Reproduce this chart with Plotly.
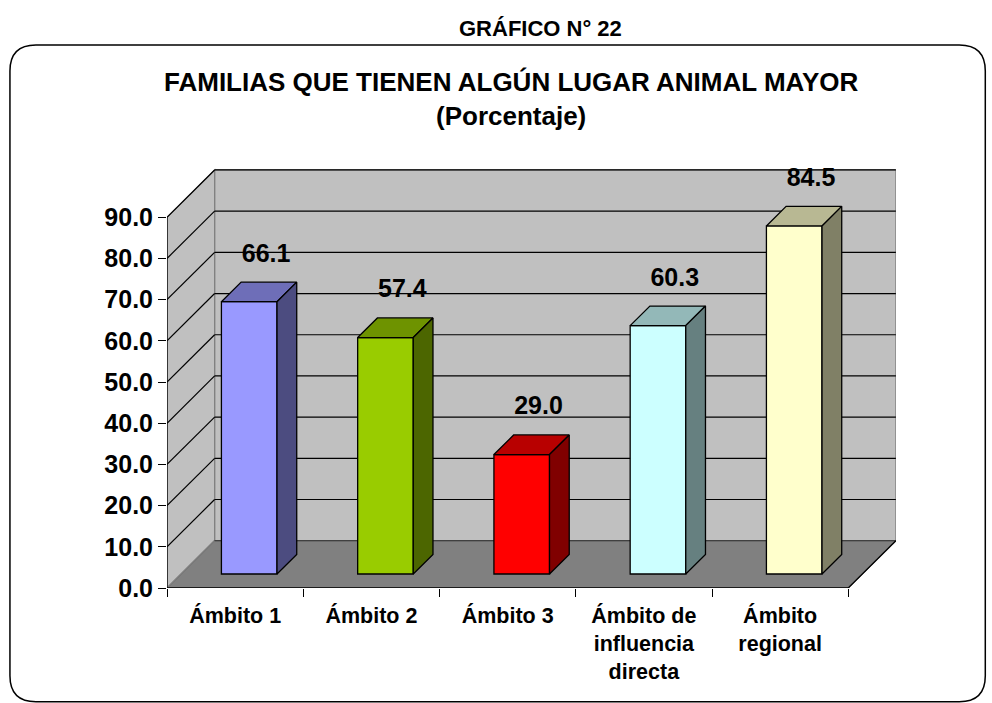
import textwrap
import plotly.graph_objects as go

# ---------------- data ----------------
categories = ["Ámbito 1", "Ámbito 2", "Ámbito 3", "Ámbito de influencia directa", "Ámbito regional"]
values = [66.1, 57.4, 29.0, 60.3, 84.5]
bar_colors = ["#9999FF", "#99CC00", "#FF0000", "#CCFFFF", "#FFFFCC"]
y_ticks = [0, 10, 20, 30, 40, 50, 60, 70, 80, 90]
sup_title = "GRÁFICO N° 22"
title = "FAMILIAS QUE TIENEN ALGÚN LUGAR ANIMAL MAYOR"
subtitle = "(Porcentaje)"

# ---------------- geometry (pseudo 3D) ----------------
W, H = 992, 703
UX = 136.2        # px per category
UY = 4.122        # px per value unit
DX = 0.3495       # depth offset in x units
DY = 11.48        # depth offset in y units
F0, F1 = 0.296, 0.71   # bar depth span (fraction of depth)
BAR_W = 0.408
YMAX = y_ticks[-1]
n = len(categories)
XR = n + DX + 0.001
YR = 103.9
ML, MT = 167, 160
PW, PH = XR * UX, YR * UY
MR, MB = W - ML - PW, H - MT - PH

FONT = "Liberation Sans, Arial, sans-serif"


def shade(hexc, k):
    h = hexc.lstrip("#")
    r, g, b = (int(h[i:i + 2], 16) for i in (0, 2, 4))
    return "rgb(%d,%d,%d)" % (round(r * k), round(g * k), round(b * k))


def pxx(x):
    return (x - ML) / PW


def pxy(y):
    return (MT + PH - y) / PH


fig = go.Figure()
shapes = []

# walls
back = f"M {DX},{DY} L {n + DX},{DY} L {n + DX},{YMAX + DY} L {DX},{YMAX + DY} Z"
left = f"M 0,0 L {DX},{DY} L {DX},{YMAX + DY} L 0,{YMAX} Z"
floor = f"M 0,0 L {n},0 L {n + DX},{DY} L {DX},{DY} Z"
shapes.append(dict(type="path", path=back, xref="x", yref="y", fillcolor="#C0C0C0",
                   line=dict(color="#808080", width=1.2), layer="below"))
shapes.append(dict(type="path", path=left, xref="x", yref="y", fillcolor="#C0C0C0",
                   line=dict(color="#808080", width=1.2), layer="below"))
shapes.append(dict(type="path", path=floor, xref="x", yref="y", fillcolor="#808080",
                   line=dict(color="#606060", width=1.2), layer="below"))
# gridlines
for v in y_ticks:
    col = "#404040" if v == 0 else "#000000"
    shapes.append(dict(type="line", xref="x", yref="y", x0=0, y0=v, x1=DX, y1=v + DY,
                       line=dict(color="#808080" if v == 0 else col, width=1.2), layer="below"))
    shapes.append(dict(type="line", xref="x", yref="y", x0=DX, y0=v + DY, x1=n + DX, y1=v + DY,
                       line=dict(color=col, width=1.2), layer="below"))
# front edges
shapes.append(dict(type="line", xref="x", yref="y", x0=0, y0=0, x1=0, y1=YMAX,
                   line=dict(color="#000", width=1.3), layer="below"))
shapes.append(dict(type="line", xref="x", yref="y", x0=0, y0=0, x1=n, y1=0,
                   line=dict(color="#000", width=1.3), layer="below"))
shapes.append(dict(type="line", xref="x", yref="y", x0=n, y0=0, x1=n + DX, y1=DY,
                   line=dict(color="#000", width=1.2), layer="below"))

# rounded border
bx0, bx1, by0, by1, rr = 10, 985, 45, 702, 26
rx, ry = rr / PW, rr / PH
X0, X1, Y0, Y1 = pxx(bx0), pxx(bx1), pxy(by0), pxy(by1)
border = (f"M {X0 + rx},{Y0} L {X1 - rx},{Y0} Q {X1},{Y0} {X1},{Y0 - ry} "
          f"L {X1},{Y1 + ry} Q {X1},{Y1} {X1 - rx},{Y1} L {X0 + rx},{Y1} "
          f"Q {X0},{Y1} {X0},{Y1 + ry} L {X0},{Y0 - ry} Q {X0},{Y0} {X0 + rx},{Y0} Z")
shapes.append(dict(type="path", path=border, xref="paper", yref="paper",
                   line=dict(color="#000", width=1.5), layer="above"))

# bars: front faces
centers = [i + 0.5 for i in range(n)]
fig.add_trace(go.Bar(
    x=[c + F0 * DX for c in centers], y=values, base=[F0 * DY] * n, width=BAR_W,
    marker=dict(color=bar_colors, line=dict(color="#000", width=1.3)),
    hoverinfo="skip", showlegend=False))

# top and side faces
for c, v, col in zip(centers, values, bar_colors):
    x0, x1 = c - BAR_W / 2, c + BAR_W / 2
    top_x = [x0 + F0 * DX, x1 + F0 * DX, x1 + F1 * DX, x0 + F1 * DX, x0 + F0 * DX]
    top_y = [v + F0 * DY, v + F0 * DY, v + F1 * DY, v + F1 * DY, v + F0 * DY]
    side_x = [x1 + F0 * DX, x1 + F1 * DX, x1 + F1 * DX, x1 + F0 * DX, x1 + F0 * DX]
    side_y = [F0 * DY, F1 * DY, v + F1 * DY, v + F0 * DY, F0 * DY]
    fig.add_trace(go.Scatter(x=top_x, y=top_y, fill="toself", mode="lines",
                             fillcolor=shade(col, 0.72), line=dict(color="#000", width=1.3),
                             hoverinfo="skip", showlegend=False))
    fig.add_trace(go.Scatter(x=side_x, y=side_y, fill="toself", mode="lines",
                             fillcolor=shade(col, 0.5), line=dict(color="#000", width=1.3),
                             hoverinfo="skip", showlegend=False))

# data labels
fig.add_trace(go.Scatter(
    x=[c + 0.65 * DX for c in centers], y=[v + F1 * DY + 6.5 for v in values],
    mode="text", text=["%.1f" % v for v in values],
    textfont=dict(family=FONT, size=25, color="#000", weight="bold"),
    hoverinfo="skip", showlegend=False))

# invisible trace for boundary tick axis
fig.add_trace(go.Scatter(x=[0, n], y=[0, 0], xaxis="x2", mode="markers",
                         marker=dict(opacity=0), hoverinfo="skip", showlegend=False))

tick_text = ["<br>".join(textwrap.wrap(c, 10)) for c in categories]

fig.update_layout(
    width=W, height=H, autosize=False,
    margin=dict(l=ML, r=MR, t=MT, b=MB, pad=0),
    paper_bgcolor="white", plot_bgcolor="rgba(0,0,0,0)",
    showlegend=False, shapes=shapes,
    xaxis=dict(range=[0, XR], tickvals=centers, ticktext=tick_text, showgrid=False,
               zeroline=False, showline=False, ticks="outside", ticklen=8,
               tickcolor="rgba(0,0,0,0)", automargin=False, fixedrange=True,
               tickfont=dict(family=FONT, size=21.5, color="#000", weight="bold")),
    xaxis2=dict(range=[0, XR], overlaying="x", side="bottom", tickvals=list(range(n + 1)),
                showticklabels=False, ticks="outside", ticklen=8, tickcolor="#000",
                tickwidth=1.2, showgrid=False, zeroline=False, showline=False, automargin=False),
    yaxis=dict(range=[0, YR], tickvals=y_ticks, ticktext=["%.1f" % t for t in y_ticks],
               showgrid=False, zeroline=False, showline=False, ticks="outside", ticklen=8,
               tickcolor="#000", tickwidth=1.2, automargin=False, fixedrange=True,
               tickfont=dict(family=FONT, size=25, color="#000", weight="bold")),
    annotations=[
        dict(text=sup_title, xref="paper", yref="paper", x=pxx(540), y=pxy(28),
             xanchor="center", yanchor="middle", showarrow=False,
             font=dict(family=FONT, size=22, color="#000", weight="bold")),
        dict(text=title + "<br>" + subtitle, xref="paper", yref="paper", x=pxx(511), y=pxy(99),
             xanchor="center", yanchor="middle", showarrow=False,
             font=dict(family=FONT, size=26, color="#000", weight="bold")),
    ],
)

fig.write_html("out.html", config={"displayModeBar": False},
               post_script="document.body.style.margin='0';")
